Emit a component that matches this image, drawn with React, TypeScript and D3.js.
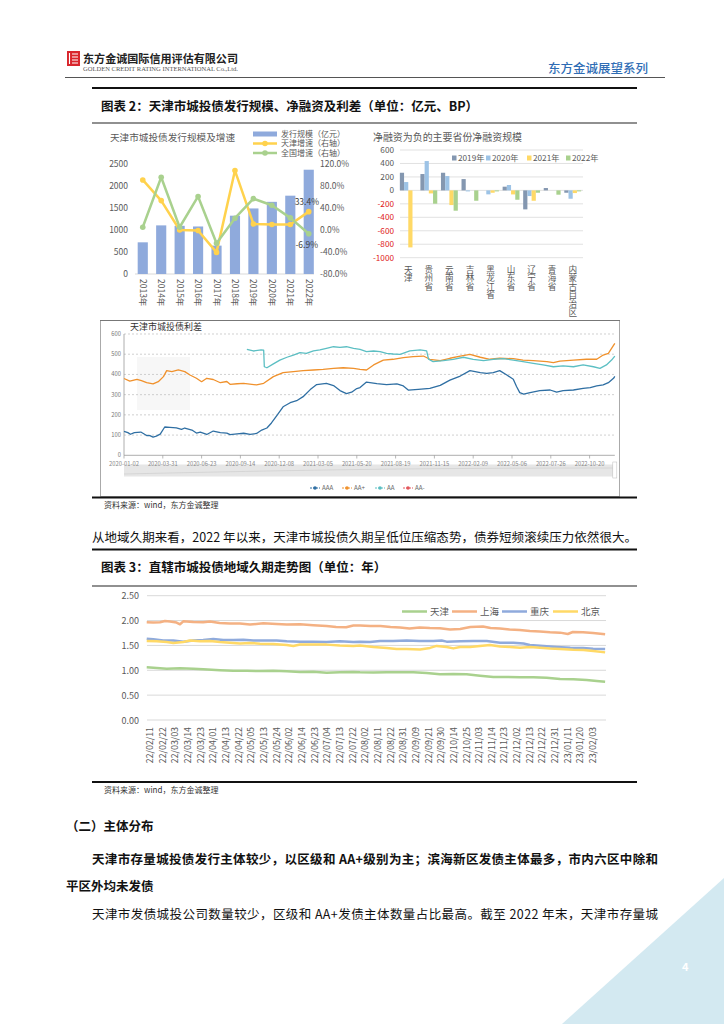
import React from 'react';
import * as d3 from 'd3';

const FONT = '"Noto Sans CJK SC", "Noto Sans", sans-serif';
const LEGEND_FONT = '"Liberation Sans", "Noto Sans CJK SC", sans-serif';

// ---------- Chart A: issuance scale & growth ----------
const ISSUE_YEARS = ['2013年', '2014年', '2015年', '2016年', '2017年', '2018年', '2019年', '2020年', '2021年', '2022年'];
const ISSUE_SCALE = [720, 1105, 1095, 1080, 645, 1325, 1490, 1640, 1780, 2370];
const TJ_GROWTH = [91, 53.5, 0, -1, -40.7, 108, 11, 10, 10, 33.4];
const NATION_GROWTH = [5, 96, 5, 61, -24, 21.5, 57, 45, 22, -6.9];
const LEFT_TICKS = [0, 500, 1000, 1500, 2000, 2500];
const RIGHT_TICKS = [-80, -40, 0, 40, 80, 120];
const ISSUE_LEGEND = ['发行规模（亿元）', '天津增速（右轴）', '全国增速（右轴）'];

// ---------- Chart B: net financing ----------
const PROVINCES = ['天津', '贵州省', '云南省', '吉林省', '黑龙江省', '山东省', '辽宁省', '青海省', '内蒙古自治区'];
const NET_YEARS = ['2019年', '2020年', '2021年', '2022年'];
const NET_2019 = [262, 243, 262, 168, 0, 55, -282, 35, -35];
const NET_2020 = [124, 436, 213, -15, -59, 80, -84, 0, -124];
const NET_2021 = [-847, -45, -218, 0, -35, -60, -154, 0, -40];
const NET_2022 = [0, -198, -302, -154, -15, -139, -35, -64, -15];
const NET_TICKS = [600, 400, 200, 0, -200, -400, -600, -800, -1000];

// ---------- Chart C: spreads (x = trading-day index) ----------
const SPREAD_TICK_LABELS = ['2020-01-02', '2020-03-31', '2020-06-23', '2020-09-14', '2020-12-08', '2021-03-05', '2021-05-20', '2021-08-19', '2021-11-15', '2022-02-09', '2022-05-06', '2022-07-26', '2022-10-20'];
const SPREAD_Y_TICKS = [0, 100, 200, 300, 400, 500, 600];
const SPREAD_AAA: [number, number][] = [[0,118],[6,112],[10,104],[16,112],[26,115],[35,98],[40,97],[45,90],[50,95],[56,105],[63,140],[71,138],[81,136],[89,128],[94,135],[105,125],[112,110],[118,115],[128,103],[138,120],[149,112],[159,110],[164,102],[175,106],[185,109],[195,104],[205,108],[213,125],[221,135],[228,160],[236,195],[246,240],[257,260],[267,270],[277,290],[288,325],[298,350],[313,356],[324,345],[334,320],[344,305],[352,312],[360,330],[365,335],[375,362],[391,355],[406,350],[422,353],[432,343],[440,322],[455,326],[473,331],[489,346],[504,372],[520,392],[535,419],[551,409],[561,405],[571,409],[581,419],[592,397],[602,376],[607,340],[612,310],[618,303],[628,310],[643,320],[659,323],[669,313],[679,320],[695,323],[710,331],[721,335],[731,343],[741,348],[749,359],[757,381],[759,390]];
const SPREAD_AAPLUS: [number, number][] = [[0,380],[9,367],[20,376],[27,369],[35,359],[45,353],[53,364],[61,389],[66,419],[74,414],[84,422],[94,414],[102,397],[112,381],[120,364],[128,381],[138,375],[149,359],[159,365],[164,351],[175,354],[185,356],[205,348],[216,356],[231,389],[246,409],[262,414],[277,419],[293,422],[308,425],[324,430],[339,433],[355,430],[365,425],[375,422],[386,447],[401,471],[416,475],[432,483],[447,488],[463,491],[473,475],[489,468],[504,480],[520,491],[535,499],[551,485],[566,475],[581,480],[602,478],[617,471],[633,468],[654,463],[664,458],[674,466],[695,471],[715,475],[731,475],[741,496],[749,504],[754,529],[759,554]];
const SPREAD_AA: [number, number][] = [[190,524],[200,516],[212,521],[216,520],[217,438],[221,433],[231,452],[241,471],[252,485],[262,496],[272,508],[282,504],[293,517],[303,521],[313,529],[324,537],[334,534],[344,537],[355,529],[365,524],[375,513],[386,516],[396,513],[406,504],[416,501],[427,499],[442,517],[458,521],[468,517],[471,475],[478,463],[494,468],[509,475],[525,485],[540,475],[556,468],[571,475],[587,478],[602,471],[617,463],[633,455],[648,447],[664,438],[679,442],[695,438],[710,447],[726,438],[736,430],[746,447],[754,471],[759,491]];
const SPREAD_AAMINUS: [number, number][] = [];
const SPREAD_NAMES = ['AAA', 'AA+', 'AA', 'AA-'];

// ---------- Chart D: duration (x = label index) ----------
const DUR_LABELS = ['22/02/11','22/02/22','22/03/03','22/03/14','22/03/23','22/04/01','22/04/13','22/04/22','22/05/05','22/05/13','22/05/24','22/06/02','22/06/14','22/06/23','22/07/04','22/07/13','22/07/22','22/08/02','22/08/11','22/08/22','22/08/31','22/09/09','22/09/21','22/09/30','22/10/14','22/10/25','22/11/03','22/11/14','22/11/23','22/12/02','22/12/13','22/12/22','22/12/31','23/01/11','23/01/20','23/02/03'];
const DUR_TICKS = [0, 0.5, 1, 1.5, 2, 2.5];
const DUR_SHANGHAI: [number, number][] = [[-0.26,1.965],[0.26,1.96],[0.79,1.965],[1.18,1.99],[1.58,1.98],[2.1,1.96],[2.37,1.925],[2.63,1.985],[3.42,1.97],[4.2,1.965],[4.74,1.98],[5.5,1.95],[6.3,1.94],[7.1,1.94],[7.9,1.92],[8.95,1.945],[10,1.93],[10.8,1.92],[11.85,1.925],[12.9,1.905],[13.95,1.89],[14.7,1.87],[15.5,1.865],[16.06,1.9],[16.6,1.9],[17.4,1.89],[18.2,1.89],[19,1.87],[19.75,1.86],[20.5,1.84],[21.3,1.86],[22.1,1.85],[22.9,1.845],[23.7,1.82],[24.5,1.83],[25.3,1.87],[26.3,1.88],[26.9,1.85],[27.65,1.84],[28.4,1.82],[29.2,1.81],[30,1.79],[30.8,1.78],[31.6,1.765],[32.4,1.757],[33,1.73],[33.4,1.77],[34.2,1.765],[35,1.75],[35.95,1.724]];
const DUR_CHONGQING: [number, number][] = [[-0.26,1.636],[0.26,1.623],[1.05,1.6],[1.84,1.6],[2.63,1.576],[3.42,1.6],[4.2,1.61],[5.0,1.63],[5.79,1.61],[6.58,1.61],[7.37,1.616],[8.16,1.6],[8.95,1.6],[10,1.6],[10.8,1.583],[11.85,1.576],[12.9,1.576],[13.95,1.57],[15,1.583],[16.06,1.57],[16.59,1.576],[17.38,1.57],[18.17,1.59],[19.2,1.59],[20.27,1.6],[21.3,1.59],[22.38,1.59],[23.04,1.6],[23.43,1.576],[24.5,1.583],[25.54,1.59],[26.6,1.59],[27.65,1.556],[28.7,1.556],[29.5,1.54],[30,1.51],[31.07,1.49],[32.13,1.47],[33.2,1.455],[34.2,1.45],[35,1.435],[35.95,1.43]];
const DUR_BEIJING: [number, number][] = [[-0.26,1.59],[0.53,1.583],[1.32,1.57],[1.84,1.55],[2.63,1.57],[3.16,1.6],[3.95,1.583],[4.74,1.59],[5.53,1.57],[6.32,1.556],[7.11,1.54],[7.9,1.55],[8.69,1.536],[9.74,1.53],[10.8,1.51],[11.32,1.49],[11.85,1.52],[12.9,1.52],[13.95,1.516],[15,1.5],[16.06,1.49],[16.59,1.496],[17.64,1.47],[18.7,1.45],[19.48,1.43],[20.27,1.43],[21.33,1.42],[22.12,1.45],[22.64,1.49],[23.43,1.47],[23.96,1.44],[24.49,1.47],[25.28,1.47],[26.07,1.49],[26.86,1.51],[27.65,1.48],[28.44,1.47],[29.23,1.455],[30.02,1.47],[30.81,1.455],[31.6,1.44],[32.39,1.43],[33.44,1.415],[34.23,1.41],[35.02,1.39],[35.95,1.36]];
const DUR_TIANJIN: [number, number][] = [[-0.26,1.06],[0.53,1.046],[1.32,1.03],[2.37,1.04],[3.42,1.033],[4.21,1.02],[5.53,1.0],[6.58,0.99],[7.64,0.99],[8.69,0.986],[9.74,0.99],[10.8,0.98],[11.85,0.966],[12.9,0.97],[13.95,0.952],[15,0.96],[16.06,0.966],[16.59,0.96],[17.64,0.955],[18.7,0.96],[19.75,0.96],[20.8,0.96],[21.85,0.946],[22.9,0.92],[23.96,0.925],[25.01,0.92],[26.07,0.89],[27.12,0.865],[28.17,0.865],[29.23,0.858],[30.28,0.858],[31.33,0.85],[32.39,0.825],[33.44,0.818],[34.49,0.805],[35.28,0.785],[35.95,0.77]];
const DUR_NAMES = ['天津', '上海', '重庆', '北京'];

export default function App() {
  const gray = '#595959';

  // Chart A scales
  const xA = d3.scaleBand<string>().domain(ISSUE_YEARS).range([134, 317.5]).paddingInner(0.45).paddingOuter(0.2);
  const yAL = d3.scaleLinear().domain([0, 2500]).range([274, 164]);
  const yAR = d3.scaleLinear().domain([-80, 120]).range([274, 164]);
  const cx = (i: number) => (xA(ISSUE_YEARS[i]) as number) + xA.bandwidth() / 2;
  const lineA = (vals: number[]) =>
    d3.line<number>().x((_, i) => cx(i)).y((v) => yAR(v))(vals) as string;
  const TJ_COLOR = '#FFD24D';
  const NA_COLOR = '#A9D18E';
  const BAR_COLOR = '#8FAADC';
  const LEG_Y = [134, 143.5, 153];

  // Chart B scales
  const xB = d3.scaleBand<string>().domain(PROVINCES).range([398, 583]).paddingInner(0.18).paddingOuter(0.09);
  const xBin = d3.scaleBand<string>().domain(NET_YEARS).range([0, xB.bandwidth()]);
  const yB = d3.scaleLinear().domain([-1000, 600]).range([257.7, 150]);
  const NET_SERIES = [NET_2019, NET_2020, NET_2021, NET_2022];
  const NET_COLORS = ['#8497B0', '#9DC3E6', '#FFD966', '#A9D18E'];

  // Chart C scales
  const xC = d3.scaleLinear().domain([0, 720]).range([124, 124 + 38.8 * 12]);
  const yC = d3.scaleLinear().domain([0, 600]).range([455.3, 334]);
  const lineC = d3.line<[number, number]>().x((d) => xC(d[0])).y((d) => yC(d[1]));
  const SPREAD_SERIES = [SPREAD_AAA, SPREAD_AAPLUS, SPREAD_AA, SPREAD_AAMINUS];
  const SPREAD_COLORS = ['#2f6fa3', '#f0912c', '#5cbfc3', '#e3575c'];
  const cRight = xC(759);

  // Chart D scales
  const xD = d3.scaleLinear().domain([0, DUR_LABELS.length - 1]).range([150, 150 + 12.66 * (DUR_LABELS.length - 1)]);
  const yD = d3.scaleLinear().domain([0, 2.5]).range([720, 595.7]);
  const lineD = d3.line<[number, number]>().x((d) => xD(d[0])).y((d) => yD(d[1]));
  const DUR_SERIES = [DUR_TIANJIN, DUR_SHANGHAI, DUR_CHONGQING, DUR_BEIJING];
  const DUR_COLORS = ['#A9D18E', '#F4B183', '#8FAADC', '#FFD966'];

  return (
    <svg width={724} height={1024} style={{ position: 'absolute', left: 0, top: 0, background: '#fff' }} fontFamily={FONT}>
      <rect x={0} y={0} width={724} height={1024} fill="#fff" />
      {/* Header */}
      <rect x={67} y={51} width={13} height={15} fill="#d9262d" />
      <path d="M69.5 53 V64 M72 54 H78 M72 57 H78 M72 60 H78 M72 63 H78" stroke="#fff" strokeWidth={1.1} />
      <text x={83} y={63} fontSize={11} fontWeight={700} fill="#222" fontFamily='"DejaVu Serif", "Noto Sans CJK SC", serif' textLength={155} lengthAdjust="spacingAndGlyphs">
        东方金诚国际信用评估有限公司
      </text>
      <text x={83} y={70.5} fontSize={5.2} fill="#555" fontFamily='"Liberation Serif", serif' textLength={155} lengthAdjust="spacingAndGlyphs">
        GOLDEN CREDIT RATING INTERNATIONAL Co.,Ltd.
      </text>
      <text x={548} y={73} fontSize={12} fontWeight={500} fill="#2f6db5" textLength={100} lengthAdjust="spacingAndGlyphs">东方金诚展望系列</text>
      <line x1={65} x2={665} y1={77.5} y2={77.5} stroke="#555" strokeWidth={1} />

      {/* Figure 2 title */}
      <line x1={92} x2={637} y1={88} y2={88} stroke="#111" strokeWidth={2} />
      <text x={101} y={111} fontSize={12.5} fontWeight={700} fill="#111">图表 2：天津市城投债发行规模、净融资及利差（单位：亿元、BP）</text>
      <line x1={92} x2={637} y1={123} y2={123} stroke="#222" strokeWidth={1.2} />

      {/* Chart A */}
      <text x={110} y={141} fontSize={9.6} fill={gray} textLength={125} lengthAdjust="spacingAndGlyphs">天津市城投债发行规模及增速</text>
      <rect x={253} y={LEG_Y[0] - 2.5} width={24} height={5} fill={BAR_COLOR} />
      <line x1={253} x2={277} y1={LEG_Y[1]} y2={LEG_Y[1]} stroke={TJ_COLOR} strokeWidth={2.5} />
      <circle cx={265} cy={LEG_Y[1]} r={2.8} fill={TJ_COLOR} />
      <line x1={253} x2={277} y1={LEG_Y[2]} y2={LEG_Y[2]} stroke={NA_COLOR} strokeWidth={2.5} />
      <circle cx={265} cy={LEG_Y[2]} r={2.8} fill={NA_COLOR} />
      {ISSUE_LEGEND.map((t, i) => (
        <text key={'al' + i} x={281} y={LEG_Y[i] + 2.9} fontSize={8} fill={gray} fontFamily={LEGEND_FONT}>{t}</text>
      ))}
      {LEFT_TICKS.map((t) => (
        <text key={'l' + t} x={128} y={yAL(t) + 3} fontSize={8.5} fill={gray} textAnchor="end">{t}</text>
      ))}
      {RIGHT_TICKS.map((t) => (
        <text key={'r' + t} x={320} y={yAR(t) + 3} fontSize={8.5} fill={gray}>{t.toFixed(1) + '%'}</text>
      ))}
      <line x1={135} x2={314} y1={274} y2={274} stroke="#d9d9d9" strokeWidth={1} />
      {ISSUE_SCALE.map((v, i) => (
        <rect key={'b' + i} x={xA(ISSUE_YEARS[i])} y={yAL(v)} width={xA.bandwidth()} height={yAL(0) - yAL(v)} fill={BAR_COLOR} />
      ))}
      <path d={lineA(TJ_GROWTH)} fill="none" stroke={TJ_COLOR} strokeWidth={2.5} strokeLinejoin="round" />
      <path d={lineA(NATION_GROWTH)} fill="none" stroke={NA_COLOR} strokeWidth={2.5} strokeLinejoin="round" />
      {TJ_GROWTH.map((v, i) => <circle key={'tj' + i} cx={cx(i)} cy={yAR(v)} r={2.8} fill={TJ_COLOR} />)}
      {NATION_GROWTH.map((v, i) => <circle key={'na' + i} cx={cx(i)} cy={yAR(v)} r={2.8} fill={NA_COLOR} />)}
      <text x={319} y={yAR(TJ_GROWTH[9]) - 7} fontSize={8.5} fill="#404040" textAnchor="end">{TJ_GROWTH[9].toFixed(1) + '%'}</text>
      <text x={318} y={yAR(NATION_GROWTH[9]) + 14} fontSize={8.5} fill="#404040" textAnchor="end">{NATION_GROWTH[9].toFixed(1) + '%'}</text>
      {ISSUE_YEARS.map((yr, i) => (
        <text key={'yr' + i} transform={`translate(${cx(i) - 3},279) rotate(90)`} fontSize={8.5} fill={gray}>{yr}</text>
      ))}

      {/* Chart B */}
      <text x={373} y={141} fontSize={9.8} fill={gray} textLength={149} lengthAdjust="spacingAndGlyphs">净融资为负的主要省份净融资规模</text>
      {NET_TICKS.map((t) => (
        <g key={'nt' + t}>
          <line x1={400} x2={583} y1={yB(t)} y2={yB(t)} stroke="#d9d9d9" strokeWidth={0.8} />
          <text x={394} y={yB(t) + 3} fontSize={8.2} fill={t < 0 ? '#e02020' : gray} textAnchor="end">{t}</text>
        </g>
      ))}
      {NET_SERIES.map((ser, si) =>
        ser.map((v, pi) => (
          <rect key={`nb${si}-${pi}`} x={(xB(PROVINCES[pi]) as number) + (xBin(NET_YEARS[si]) as number)} y={yB(Math.max(0, v))} width={xBin.bandwidth()} height={Math.abs(yB(v) - yB(0))} fill={NET_COLORS[si]} />
        ))
      )}
      {NET_YEARS.map((yr, i) => {
        const lx = [452, 486, 527, 566][i];
        return (
          <g key={'nl' + i}>
            <rect x={lx} y={155.5} width={4.5} height={5} fill={NET_COLORS[i]} />
            <text x={lx + 6} y={161} fontSize={8.2} fill={gray}>{yr}</text>
          </g>
        );
      })}
      {PROVINCES.map((p, i) => (
        <text key={'pv' + i} x={(xB(p) as number) + xB.bandwidth() / 2} y={265} fontSize={8.6} fill={gray}
          style={{ writingMode: 'vertical-rl', textOrientation: 'upright' } as React.CSSProperties}>
          {p}
        </text>
      ))}

      {/* Chart C frame */}
      <rect x={100.5} y={320.5} width={519} height={176} fill="none" stroke="#aaa" strokeWidth={1} />
      <line x1={100} x2={620} y1={320.5} y2={320.5} stroke="#777" strokeWidth={1} />
      <text x={130} y={330} fontSize={9} fill="#333">天津市城投债利差</text>
      <rect x={137} y={357} width={53} height={53} fill="#eeeeee" opacity={0.45} />
      {SPREAD_Y_TICKS.map((t) => (
        <g key={'sy' + t}>
          {t > 0 && <line x1={124} x2={cRight} y1={yC(t)} y2={yC(t)} stroke="#bbb" strokeWidth={0.7} strokeDasharray="2,2" />}
          <text x={121} y={yC(t) + 2} fontSize={5.8} fill="#777" textAnchor="end">{t}</text>
        </g>
      ))}
      <line x1={124} x2={124} y1={334} y2={455.3} stroke="#999" strokeWidth={0.8} />
      <rect x={124} y={464.5} width={cRight - 124} height={12} fill="#e6e6e6" />
      <path d={`M124 474 Q300 470 400 469 T${cRight} 468`} fill="none" stroke="#cfcfcf" strokeWidth={0.7} />
      <rect x={cRight - 2} y={462} width={4} height={16} fill="#fff" stroke="#bbb" strokeWidth={0.5} />
      <line x1={124} x2={cRight} y1={455.3} y2={455.3} stroke="#999" strokeWidth={0.8} />
      {SPREAD_TICK_LABELS.map((lb, i) => (
        <g key={'sx' + i}>
          <line x1={xC(i * 60)} x2={xC(i * 60)} y1={455.3} y2={458.5} stroke="#999" strokeWidth={0.7} />
          <text x={xC(i * 60)} y={466} fontSize={5.8} fill="#888" textAnchor="middle">{lb}</text>
        </g>
      ))}
      {SPREAD_SERIES.map((ser, i) =>
        ser.length ? <path key={'sp' + i} d={lineC(ser) as string} fill="none" stroke={SPREAD_COLORS[i]} strokeWidth={1.3} strokeLinejoin="round" /> : null
      )}
      {SPREAD_NAMES.map((nm, i) => {
        const lx = [310, 342, 375, 403][i];
        return (
          <g key={'sl' + i}>
            <line x1={lx} x2={lx + 10} y1={488} y2={488} stroke={SPREAD_COLORS[i]} strokeWidth={1} strokeDasharray="2,1" />
            <circle cx={lx + 5} cy={488} r={1.8} fill={SPREAD_COLORS[i]} />
            <text x={lx + 12} y={490.2} fontSize={6.2} fill="#666">{nm}</text>
          </g>
        );
      })}

      <line x1={92} x2={637} y1={497.5} y2={497.5} stroke="#111" strokeWidth={2} />
      <text x={104} y={508} fontSize={8} fill="#333">资料来源：wind，东方金诚整理</text>

      <text x={92} y={542} fontSize={12.5} fill="#111" textLength={545} lengthAdjust="spacing">从地域久期来看，2022 年以来，天津市城投债久期呈低位压缩态势，债券短频滚续压力依然很大。</text>

      {/* Figure 3 */}
      <line x1={92} x2={637} y1={549.5} y2={549.5} stroke="#111" strokeWidth={2} />
      <text x={101} y={572} fontSize={12.5} fontWeight={700} fill="#111">图表 3：直辖市城投债地域久期走势图（单位：年）</text>
      <line x1={92} x2={637} y1={586} y2={586} stroke="#222" strokeWidth={1.2} />
      {DUR_TICKS.map((t) => (
        <g key={'dt' + t}>
          <line x1={147} x2={606} y1={yD(t)} y2={yD(t)} stroke="#d9d9d9" strokeWidth={1} />
          <text x={139} y={yD(t) + 3.5} fontSize={9} fill={gray} textAnchor="end">{t.toFixed(2)}</text>
        </g>
      ))}
      {DUR_SERIES.map((ser, i) => (
        <path key={'dl' + i} d={lineD(ser) as string} fill="none" stroke={DUR_COLORS[i]} strokeWidth={2.5} strokeLinejoin="round" />
      ))}
      {DUR_LABELS.map((lb, i) => (
        <text key={'dx' + i} transform={`translate(${xD(i) + 3},727) rotate(-90)`} fontSize={8.8} fill={gray} textAnchor="end">{lb}</text>
      ))}
      {DUR_NAMES.map((nm, i) => {
        const lx = [402, 452, 502, 553][i];
        return (
          <g key={'dn' + i}>
            <line x1={lx} x2={lx + 25} y1={611.5} y2={611.5} stroke={DUR_COLORS[i]} strokeWidth={2.5} />
            <text x={lx + 28} y={615} fontSize={9.5} fill={gray}>{nm}</text>
          </g>
        );
      })}
      <line x1={92} x2={637} y1={782} y2={782} stroke="#111" strokeWidth={2} />
      <text x={104} y={793} fontSize={8} fill="#333">资料来源：wind，东方金诚整理</text>

      {/* Body text */}
      <text x={66} y={830.5} fontSize={12.5} fontWeight={700} fill="#111">（二）主体分布</text>
      <text x={92} y={863.5} fontSize={12.5} fontWeight={700} fill="#111" textLength={566} lengthAdjust="spacing">天津市存量城投债发行主体较少，以区级和 AA+级别为主；滨海新区发债主体最多，市内六区中除和</text>
      <text x={66} y={891} fontSize={12.5} fontWeight={700} fill="#111">平区外均未发债</text>
      <text x={92} y={918.5} fontSize={12.5} fill="#111" textLength={566} lengthAdjust="spacing">天津市发债城投公司数量较少，区级和 AA+发债主体数量占比最高。截至 2022 年末，天津市存量城</text>

      {/* Decorative triangle */}
      <polygon points="724,878 724,1024 562,1024" fill="#d3e9f1" />
      <text x={682} y={971} fontSize={11} fill="#fff" fontWeight={700}>4</text>
    </svg>
  );
}
